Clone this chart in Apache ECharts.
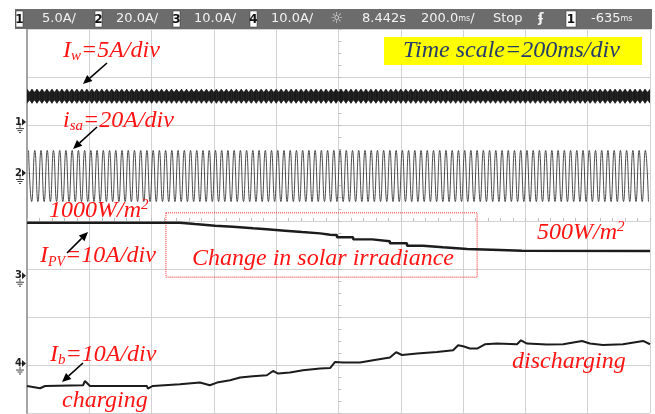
<!DOCTYPE html>
<html>
<head>
<meta charset="utf-8">
<script src="https://cdn.jsdelivr.net/npm/echarts@6/dist/echarts.min.js"></script>
<style>
html, body { margin: 0; padding: 0; background: #fff; }
#chart { width: 655px; height: 414px; }
</style>
</head>
<body>
<div id="chart"></div>
<script>
// ---- Scope channel settings ----
const channelNames = ['1', '2', '3', '4'];
const ampsPerDiv = [5, 20, 10, 10];          // vertical scale of each channel
const groundDiv = [2.06, 1.0, -1.14, -2.97];  // ground level, divisions above screen centre
const headerScales = ['5.0A/', '20.0A/', '10.0A/', '10.0A/'];

// ---- Time base (ms, relative to screen centre) ----
const timeMin = -1000, timeMax = 1000, msPerDiv = 200;

// ---- Channel 1: wind current Iw, envelope of the fast ripple (A) ----
const iwCentre = 2.7;
const iwStartMs = -1000, iwStepMs = 8;
const iwEnvelope = [
  0.73,0.40,0.73,0.40,0.73,0.40,0.73,0.40,0.73,0.40,0.73,0.40,0.73,0.40,0.73,0.40,0.73,0.40,0.73,0.40,
  0.73,0.40,0.73,0.40,0.73,0.40,0.73,0.40,0.73,0.40,0.73,0.40,0.73,0.40,0.73,0.40,0.73,0.40,0.73,0.40,
  0.73,0.40,0.73,0.40,0.73,0.40,0.73,0.40,0.73,0.40,0.73,0.40,0.73,0.40,0.73,0.40,0.73,0.40,0.73,0.40,
  0.73,0.40,0.73,0.40,0.73,0.40,0.73,0.40,0.73,0.40,0.73,0.40,0.73,0.40,0.73,0.40,0.73,0.40,0.73,0.40,
  0.73,0.40,0.73,0.40,0.73,0.40,0.73,0.40,0.73,0.40,0.73,0.40,0.73,0.40,0.73,0.40,0.73,0.40,0.73,0.40,
  0.73,0.40,0.73,0.40,0.73,0.40,0.73,0.40,0.73,0.40,0.73,0.40,0.73,0.40,0.73,0.40,0.73,0.40,0.73,0.40,
  0.73,0.40,0.73,0.40,0.73,0.40,0.73,0.40,0.73,0.40,0.73,0.40,0.73,0.40,0.73,0.40,0.73,0.40,0.73,0.40,
  0.73,0.40,0.73,0.40,0.73,0.40,0.73,0.40,0.73,0.40,0.73,0.40,0.73,0.40,0.73,0.40,0.73,0.40,0.73,0.40,
  0.73,0.40,0.73,0.40,0.73,0.40,0.73,0.40,0.73,0.40,0.73,0.40,0.73,0.40,0.73,0.40,0.73,0.40,0.73,0.40,
  0.73,0.40,0.73,0.40,0.73,0.40,0.73,0.40,0.73,0.40,0.73,0.40,0.73,0.40,0.73,0.40,0.73,0.40,0.73,0.40,
  0.73,0.40,0.73,0.40,0.73,0.40,0.73,0.40,0.73,0.40,0.73,0.40,0.73,0.40,0.73,0.40,0.73,0.40,0.73,0.40,
  0.73,0.40,0.73,0.40,0.73,0.40,0.73,0.40,0.73,0.40,0.73,0.40,0.73,0.40,0.73,0.40,0.73,0.40,0.73,0.40,
  0.73,0.40,0.73,0.40,0.73,0.40,0.73,0.40,0.73,0.40,0.73
];

// ---- Channel 2: grid phase current isa, peak/trough of each half cycle (A) ----
const isaStartMs = -995, isaStepMs = 10;
const isaPeaks = [
  9.4,-11.9,9.4,-11.9,9.4,-11.9,9.4,-11.9,9.4,-11.9,9.4,-11.9,9.4,-11.9,9.4,-11.9,9.4,-11.9,9.4,-11.9,
  9.4,-11.9,9.4,-11.9,9.4,-11.9,9.4,-11.9,9.4,-11.9,9.4,-11.9,9.4,-11.9,9.4,-11.9,9.4,-11.9,9.4,-11.9,
  9.4,-11.9,9.4,-11.9,9.4,-11.9,9.4,-11.9,9.4,-11.9,9.4,-11.9,9.4,-11.9,9.4,-11.9,9.4,-11.9,9.4,-11.9,
  9.4,-11.9,9.4,-11.9,9.4,-11.9,9.4,-11.9,9.4,-11.9,9.4,-11.9,9.4,-11.9,9.4,-11.9,9.4,-11.9,9.4,-11.9,
  9.4,-11.9,9.4,-11.9,9.4,-11.9,9.4,-11.9,9.4,-11.9,9.4,-11.9,9.4,-11.9,9.4,-11.9,9.4,-11.9,9.4,-11.9,
  9.4,-11.9,9.4,-11.9,9.4,-11.9,9.4,-11.9,9.4,-11.9,9.4,-11.9,9.4,-11.9,9.4,-11.9,9.4,-11.9,9.4,-11.9,
  9.4,-11.9,9.4,-11.9,9.4,-11.9,9.4,-11.9,9.4,-11.9,9.4,-11.9,9.4,-11.9,9.4,-11.9,9.4,-11.9,9.4,-11.9,
  9.4,-11.9,9.4,-11.9,9.4,-11.9,9.4,-11.9,9.4,-11.9,9.4,-11.9,9.4,-11.9,9.4,-11.9,9.4,-11.9,9.4,-11.9,
  9.4,-11.9,9.4,-11.9,9.4,-11.9,9.4,-11.9,9.4,-11.9,9.4,-11.9,9.4,-11.9,9.4,-11.9,9.4,-11.9,9.4,-11.9,
  9.4,-11.9,9.4,-11.9,9.4,-11.9,9.4,-11.9,9.4,-11.9,9.4,-11.9,9.4,-11.9,9.4,-11.9,9.4,-11.9,9.4,-11.9
];

// ---- Channel 3: PV current IPV (A), each level held until the next time ----
const pvTimeMs = [-1000,-509,-461,-396,-339,-274,-230,-172,-117,-59,-27,-5,47,108,165,220,271,335,413,518,589,1000];
const pvAmps   = [11.04,10.77,10.42,10.21,9.88,9.67,9.38,9.10,8.83,8.54,8.48,8.00,7.58,7.17,6.75,6.25,5.92,5.56,5.35,5.21,5.15,5.15];

// ---- Channel 4: battery current Ib (A) ----
const batTimeMs = [-1000,-958,-942,-820,-814,-798,-615,-612,-596,-509,-445,-413,-390,-348,-316,-275,-230,-210,-194,-156,-114,-59,-27,-11,
                   14,69,111,165,185,204,252,316,368,384,400,422,445,470,509,573,586,605,669,721,782,807,849,913,978,1000];
const batAmps   = [-4.67,-5.15,-4.67,-4.52,-3.63,-4.67,-4.67,-5.21,-4.67,-4.31,-3.96,-4.52,-3.96,-3.48,-2.92,-2.65,-2.44,-1.54,-2.08,-1.88,-1.40,-1.04,-0.94,0.33,
                   0.21,0.21,0.69,1.25,2.35,1.79,2.08,2.42,2.77,3.81,3.60,3.13,3.13,4.02,4.17,4.02,4.85,4.17,3.96,4.02,4.71,4.17,3.88,4.02,4.71,4.02];

// Irradiance change window (time ms, channel 3 amps)
const changeBox = { t0: -554, t1: 445, top: 13.1, bottom: -0.3 };

// ---- build series data ----
const iwData  = iwEnvelope.map((e, i) => [iwStartMs + i * iwStepMs, iwCentre, e]);
const isaData = isaPeaks.map((v, i) => [isaStartMs + i * isaStepMs, v]);
const pvData  = pvTimeMs.map((t, i) => [t, pvAmps[i]]);
const batData = batTimeMs.map((t, i) => [t, batAmps[i]]);

const GRID_COLOR = '#d2d2d2';
const TRACE = '#1c1c1c';

function channelAxis(k, extra) {
  return Object.assign({
    type: 'value', show: false, position: 'left',
    min: (-4 - groundDiv[k]) * ampsPerDiv[k],
    max: (4 - groundDiv[k]) * ampsPerDiv[k],
    splitLine: { show: false }, axisLabel: { show: false },
    axisTick: { show: false }, axisLine: { show: false }
  }, extra || {});
}

// Iw ripple band: one filled segment between consecutive envelope samples
function renderIwSegment(params, api) {
  const i = params.dataIndex;
  if (i >= iwData.length - 1) return null;
  const a = iwData[i], b = iwData[i + 1];
  const pts = [
    api.coord([a[0], a[1] + a[2]]),
    api.coord([b[0], b[1] + b[2]]),
    api.coord([b[0], b[1] - b[2]]),
    api.coord([a[0], a[1] - a[2]])
  ];
  return { type: 'polygon', shape: { points: pts },
    style: { fill: TRACE, stroke: TRACE, lineWidth: 0.6 } };
}

const chart = echarts.init(document.getElementById('chart'), null, { renderer: 'canvas' });

chart.setOption({
  animation: false,
  backgroundColor: '#ffffff',
  grid: { left: 27, top: 29, width: 623, height: 384, containLabel: false },
  xAxis: [{
    type: 'value', min: timeMin, max: timeMax, interval: msPerDiv,
    axisLine: { show: true, onZero: true, onZeroAxisIndex: 0, lineStyle: { color: GRID_COLOR, width: 1 } },
    axisTick: { show: true, inside: true, length: 3, lineStyle: { color: '#bdbdbd' } },
    minorTick: { show: true, splitNumber: 5, length: 3, lineStyle: { color: '#bdbdbd' } },
    axisLabel: { show: false },
    splitLine: { show: true, lineStyle: { color: GRID_COLOR, width: 1 } }
  }],
  yAxis: [
    {
      type: 'value', min: -4, max: 4, interval: 1,
      axisLine: { show: true, onZero: true, lineStyle: { color: GRID_COLOR, width: 1 } },
      axisTick: { show: true, inside: true, length: 3, lineStyle: { color: '#bdbdbd' } },
      minorTick: { show: true, splitNumber: 4, length: 3, lineStyle: { color: '#bdbdbd' } },
      axisLabel: { show: false },
      splitLine: { show: true, lineStyle: { color: GRID_COLOR, width: 1 } }
    },
    channelAxis(0, { show: true, axisLine: { show: true, onZero: false, lineStyle: { color: '#a3a3a3', width: 2 } } }),
    channelAxis(1),
    channelAxis(2),
    channelAxis(3)
  ],
  series: [
    { name: 'Iw', type: 'custom', yAxisIndex: 1, data: iwData, renderItem: renderIwSegment,
      encode: { x: 0, y: 1 }, clip: true, silent: true },
    { name: 'isa', type: 'line', yAxisIndex: 2, data: isaData, smooth: true,
      symbol: 'none', lineStyle: { color: '#4a4a4a', width: 1 }, silent: true },
    { name: 'IPV', type: 'line', yAxisIndex: 3, data: pvData, step: 'end',
      symbol: 'none', lineStyle: { color: TRACE, width: 2.4 }, silent: true,
      markArea: {
        silent: true,
        itemStyle: { color: 'rgba(0,0,0,0)', borderColor: '#ff2020', borderWidth: 1, borderType: 'dotted' },
        data: [[{ coord: [changeBox.t0, changeBox.top] }, { coord: [changeBox.t1, changeBox.bottom] }]]
      } },
    { name: 'Ib', type: 'line', yAxisIndex: 4, data: batData,
      symbol: 'none', lineStyle: { color: TRACE, width: 2 }, silent: true }
  ]
});

// ---- overlay: header bar, channel markers, annotations ----
const RED = '#ff1414';
const serif = 'Liberation Serif';
const rich = {
  m:  { fontFamily: serif, fontStyle: 'italic', fontSize: 24, fill: RED, lineHeight: 26 },
  s:  { fontFamily: serif, fontStyle: 'italic', fontSize: 15, fill: RED, lineHeight: 8, verticalAlign: 'bottom' },
  sc: { fontFamily: serif, fontStyle: 'italic', fontSize: 14, fill: RED, lineHeight: 8, verticalAlign: 'bottom' },
  p:  { fontFamily: serif, fontStyle: 'italic', fontSize: 15, fill: RED, lineHeight: 12, verticalAlign: 'top' }
};

function label(x, y, text) {
  return { type: 'text', x: x, y: y, z: 100,
    style: { text: text, rich: rich, align: 'left', verticalAlign: 'middle' } };
}

function arrow(x1, y1, x2, y2) {
  const dx = x2 - x1, dy = y2 - y1, L = Math.hypot(dx, dy);
  const ux = dx / L, uy = dy / L, hl = 9, hw = 4;
  const bx = x2 - ux * hl, by = y2 - uy * hl;
  return [
    { type: 'line', z: 100, shape: { x1: x1, y1: y1, x2: bx, y2: by }, style: { stroke: '#000', lineWidth: 1.6 } },
    { type: 'polygon', z: 100, shape: { points: [[x2, y2], [bx - uy * hw, by + ux * hw], [bx + uy * hw, by - ux * hw]] },
      style: { fill: '#000' } }
  ];
}

const hdrFont = '13px "DejaVu Sans"';
function hdrText(x, text, extra) {
  return { type: 'text', x: x, y: 19, z: 100,
    style: Object.assign({ text: text, font: hdrFont, fill: '#f2f2f2', align: 'left', verticalAlign: 'middle' }, extra || {}) };
}
function hdrBox(x, w, text) {
  return [
    { type: 'rect', z: 100, shape: { x: x, y: 11, width: w, height: 16 }, style: { fill: '#ffffff', stroke: '#333', lineWidth: 0.5 } },
    { type: 'text', z: 101, x: x + w / 2, y: 19.5,
      style: { text: text, font: 'bold 12px "DejaVu Sans"', fill: '#111', align: 'center', verticalAlign: 'middle' } }
  ];
}

const header = [
  { type: 'rect', z: 99, shape: { x: 15, y: 9, width: 637, height: 20 }, style: { fill: '#6c6c6c' } }
];
const hdrBoxX = [16, 95, 173, 250];
const hdrScaleX = [42, 116, 194, 271];
channelNames.forEach((n, k) => {
  header.push(...hdrBox(hdrBoxX[k], 7, n));
  header.push(hdrText(hdrScaleX[k], headerScales[k]));
});
header.push(hdrText(330, '☼', { font: '15px "DejaVu Sans"', fill: '#dcdcdc' }));
header.push(hdrText(362, '8.442s'));
header.push(hdrText(421, '{a|200.0}{u|ms}{a|/}', { rich: {
  a: { font: hdrFont, fill: '#f2f2f2' }, u: { font: '8px "DejaVu Sans"', fill: '#f2f2f2' } } }));
header.push(hdrText(493, 'Stop'));
header.push(hdrText(538, 'ʄ', { font: 'bold 13px "DejaVu Sans"' }));
header.push(...hdrBox(566, 10, '1'));
header.push(hdrText(591, '{a|-635}{u|ms}', { rich: {
  a: { font: hdrFont, fill: '#f2f2f2' }, u: { font: '8px "DejaVu Sans"', fill: '#f2f2f2' } } }));

// ground markers on the left edge, placed at each channel's 0 A level
const markers = channelNames.map((n, k) => {
  const y = chart.convertToPixel({ yAxisIndex: k + 1 }, 0);
  return { type: 'group', x: 14, y: y, z: 100, children: [
    { type: 'text', z: 100, x: 1, y: 0, style: { text: n, font: 'bold 10px "DejaVu Sans"', fill: '#222', align: 'left', verticalAlign: 'middle' } },
    { type: 'polygon', z: 100, shape: { points: [[8, -3.5], [12, 0], [8, 3.5]] }, style: { fill: '#222' } },
    { type: 'line', z: 100, shape: { x1: 6, y1: 3, x2: 6, y2: 6 }, style: { stroke: '#444', lineWidth: 1 } },
    { type: 'line', z: 100, shape: { x1: 2, y1: 6.5, x2: 10, y2: 6.5 }, style: { stroke: '#444', lineWidth: 1 } },
    { type: 'line', z: 100, shape: { x1: 3.5, y1: 8.5, x2: 8.5, y2: 8.5 }, style: { stroke: '#444', lineWidth: 1 } },
    { type: 'line', z: 100, shape: { x1: 5, y1: 10.5, x2: 7, y2: 10.5 }, style: { stroke: '#444', lineWidth: 1 } }
  ] };
});

const annotations = [
  { type: 'rect', z: 99, shape: { x: 384, y: 37, width: 258, height: 28 }, style: { fill: '#ffff00' } },
  { type: 'text', z: 100, x: 403, y: 51, style: { text: 'Time scale=200ms/div', fill: '#263c6a',
      font: 'italic 24px "Liberation Serif"', align: 'left', verticalAlign: 'middle' } },
  label(63, 51, '{m|I}{s|w}{m|=5A/div}'),
  label(63, 121, '{m|i}{s|sa}{m|=20A/div}'),
  label(49, 211, '{m|1000W/m}{p|2}'),
  label(40, 256, '{m|I}{sc|PV}{m|=10A/div}'),
  label(192, 259, '{m|Change in solar irradiance}'),
  label(537, 233, '{m|500W/m}{p|2}'),
  label(50, 355, '{m|I}{s|b}{m|=10A/div}'),
  label(62, 401, '{m|charging}'),
  label(512, 362, '{m|discharging}'),
  ...arrow(107, 63, 83, 84),
  ...arrow(97, 127, 73, 149),
  ...arrow(67, 253, 88, 232),
  ...arrow(83, 363, 62, 382)
];

chart.setOption({ graphic: [...header, ...markers, ...annotations] });
</script>
</body>
</html>
